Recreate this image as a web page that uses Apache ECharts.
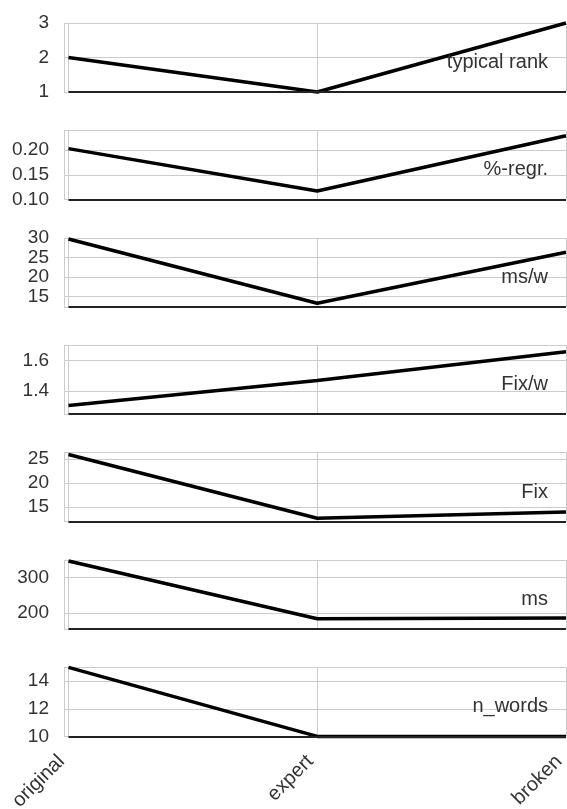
<!DOCTYPE html>
<html>
<head>
<meta charset="utf-8">
<script src="https://cdn.jsdelivr.net/npm/echarts@6/dist/echarts.min.js"></script>
<style>
  html, body { margin: 0; padding: 0; background: #fff; }
  #chart { width: 567px; height: 809px; }
</style>
</head>
<body>
<div id="chart"></div>
<script>
// categories along x
const categories = ['original', 'expert', 'broken']
// one small panel per metric
const metricNames = ['typical rank', '%-regr.', 'ms/w', 'Fix/w', 'Fix', 'ms', 'n_words']
const typicalRank = [2, 1, 3]
const regr = [0.203, 0.117, 0.229]
const msPerWord = [29.7, 13.3, 26.3]
const fixPerWord = [1.306, 1.47, 1.657]
const fix = [25.9, 12.7, 14.0]
const ms = [347, 183, 185]
const nWords = [15, 10, 10]
// y ranges and tick labels of each panel
const yMin = [1, 0.10, 12.4, 1.25, 12.0, 154, 10]
const yMax = [3, 0.24, 30, 1.70, 26.3, 350, 15]
const tickStep = [1, 0.05, 5, 0.2, 5, 100, 2]
const tickDigits = [0, 2, 0, 1, 0, 0, 0]

const seriesValues = [typicalRank, regr, msPerWord, fixPerWord, fix, ms, nWords]

const FONT = '"Liberation Sans", Arial, sans-serif'
const FONT_SIZE = 20
const TICK_FONT_SIZE = 19 // a bit smaller so the crowded ms/w ticks all stay visible
const TOP0 = 23
const PITCH = 107.4
const PANEL_H = 69
const xMin = -0.018 // small left margin like the original figure

const chart = echarts.init(document.getElementById('chart'), null, { renderer: 'canvas' })

const grids = []
const xAxes = []
const yAxes = []
const series = []
const titles = []

seriesValues.forEach((vals, i) => {
  const top = TOP0 + i * PITCH
  const last = i === seriesValues.length - 1
  grids.push({
    left: 64,
    right: 1,
    top: top,
    height: PANEL_H,
    outerBoundsMode: 'none',
    containLabel: false
  })
  xAxes.push({
    type: 'value',
    gridIndex: i,
    min: xMin,
    max: categories.length - 1,
    minInterval: 1,
    maxInterval: 1,
    axisLine: { show: false },
    axisTick: { show: false },
    splitLine: { show: true, lineStyle: { color: '#cccccc', width: 1 } },
    axisLabel: {
      show: last,
      rotate: 45,
      margin: 15,
      padding: [0, 10, 0, 0],
      showMinLabel: true,
      showMaxLabel: true,
      fontSize: FONT_SIZE,
      fontFamily: FONT,
      color: '#333',
      formatter: v => {
        const k = Math.round(v)
        return Math.abs(v - k) < 1e-6 && categories[k] ? categories[k] : ''
      }
    }
  })
  const step = tickStep[i]
  const digits = tickDigits[i]
  yAxes.push({
    type: 'value',
    gridIndex: i,
    min: yMin[i],
    max: yMax[i],
    minInterval: step,
    maxInterval: step,
    axisLine: { show: false },
    axisTick: { show: false },
    splitLine: { show: true, lineStyle: { color: '#cccccc', width: 1 } },
    axisLabel: {
      margin: 15,
      fontSize: TICK_FONT_SIZE,
      fontFamily: FONT,
      color: '#333',
      formatter: v => {
        const k = Math.round(v / step)
        return Math.abs(v / step - k) < 0.03 ? (k * step).toFixed(digits) : ''
      }
    }
  })
  series.push({
    type: 'line',
    xAxisIndex: i,
    yAxisIndex: i,
    data: vals.map((v, j) => [j, v]),
    symbol: 'none',
    clip: false,
    lineStyle: { color: '#000', width: 3.5 },
    z: 3,
    markLine: {
      silent: true,
      symbol: ['none', 'none'],
      label: { show: false },
      lineStyle: { color: '#222', width: 2, type: 'solid' },
      data: [[{ coord: [0, yMin[i]] }, { coord: [categories.length - 1, yMin[i]] }]]
    }
  })
  titles.push({
    text: metricNames[i],
    right: 19,
    top: top + 39.5 - FONT_SIZE / 2,
    padding: 0,
    textStyle: { fontSize: FONT_SIZE, fontWeight: 'normal', fontFamily: FONT, color: '#333' }
  })
})

chart.setOption({
  animation: false,
  title: titles,
  grid: grids,
  xAxis: xAxes,
  yAxis: yAxes,
  series: series
})
</script>
</body>
</html>
